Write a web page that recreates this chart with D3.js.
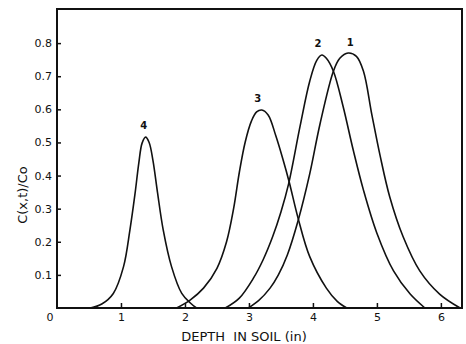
<!DOCTYPE html>
<html>
<head>
<meta charset="utf-8">
<script src="https://cdn.jsdelivr.net/npm/d3@7"></script>
<style>
  body { margin: 0; background: #fff; }
  text { font-family: "DejaVu Sans", sans-serif; fill: #111; }
</style>
</head>
<body>
<script>

// depth (in) and C/Co, one pair of arrays per curve
var curve1X = [2.99, 3.15, 3.33, 3.46, 3.60, 3.77, 3.95, 4.11, 4.32, 4.42, 4.55, 4.68, 4.79, 4.92, 5.05, 5.20, 5.41, 5.67, 5.98, 6.30];
var curve1Y = [0, 0.022, 0.06, 0.1, 0.16, 0.265, 0.405, 0.555, 0.715, 0.754, 0.77, 0.76, 0.715, 0.585, 0.46, 0.336, 0.215, 0.112, 0.042, 0];

var curve2X = [2.63, 2.85, 3.07, 3.22, 3.37, 3.50, 3.62, 3.80, 3.95, 4.06, 4.14, 4.21, 4.32, 4.47, 4.63, 4.79, 5.00, 5.26, 5.52, 5.75];
var curve2Y = [0, 0.03, 0.09, 0.145, 0.215, 0.29, 0.375, 0.55, 0.685, 0.748, 0.764, 0.754, 0.715, 0.61, 0.477, 0.356, 0.226, 0.112, 0.042, 0];

var curve3X = [1.87, 2.08, 2.29, 2.50, 2.65, 2.76, 2.85, 2.94, 3.04, 3.12, 3.20, 3.30, 3.42, 3.53, 3.63, 3.77, 3.95, 4.21, 4.38, 4.53];
var curve3Y = [0, 0.024, 0.06, 0.12, 0.2, 0.3, 0.41, 0.5, 0.565, 0.592, 0.598, 0.583, 0.52, 0.45, 0.38, 0.27, 0.155, 0.06, 0.02, 0];

var curve4X = [0.52, 0.70, 0.88, 1.04, 1.14, 1.22, 1.28, 1.33, 1.385, 1.44, 1.50, 1.57, 1.66, 1.79, 1.95, 2.08, 2.18];
var curve4Y = [0, 0.012, 0.044, 0.125, 0.236, 0.346, 0.44, 0.498, 0.516, 0.5, 0.445, 0.35, 0.236, 0.125, 0.044, 0.016, 0];

var curveNames = ["1", "2", "3", "4"];
var xTicks = [1, 2, 3, 4, 5, 6];
var yTicks = [0.1, 0.2, 0.3, 0.4, 0.5, 0.6, 0.7, 0.8];

var width = 466, height = 344;
var margins = {top: 9, left: 57, bottom: 36, right: 4};

var xScale = d3.scaleLinear()
              .domain([0, 6.33])
              .range([margins.left, width - margins.right]);
var yScale = d3.scaleLinear()
              .domain([0, 0.903])
              .range([height - margins.bottom, margins.top]);

var svg = d3.select("body")
    .append("svg")
    .attr("width", width)
    .attr("height", height);

var curves = [
  {name: curveNames[0], xs: curve1X, ys: curve1Y, dx: 2, dy: -7},
  {name: curveNames[1], xs: curve2X, ys: curve2Y, dx: -4, dy: -8},
  {name: curveNames[2], xs: curve3X, ys: curve3Y, dx: -4, dy: -8},
  {name: curveNames[3], xs: curve4X, ys: curve4Y, dx: -2, dy: -8}
];

var line = d3.line()
            .x(function(d){return xScale(d[0]);})
            .y(function(d){return yScale(Math.max(0, d[1]));})
            .curve(d3.curveCatmullRom.alpha(0.5));

var plot = svg.append("g").classed("plot", true);

plot.selectAll("path.curve")
    .data(curves)
    .enter()
    .append("path")
    .classed("curve", true)
    .attr("d", function(d){
      return line(d.xs.map(function(x, i){return [x, d.ys[i]];}));
    })
    .attr("fill", "none")
    .attr("stroke", "#111")
    .attr("stroke-width", 1.6);

// number above each peak
plot.selectAll("text.name")
    .data(curves)
    .enter()
    .append("text")
    .classed("name", true)
    .attr("x", function(d){
      var i = d3.maxIndex(d.ys);
      return xScale(d.xs[i]) + d.dx;
    })
    .attr("y", function(d){
      return yScale(d3.max(d.ys)) + d.dy;
    })
    .attr("text-anchor", "middle")
    .attr("font-size", 10)
    .attr("font-weight", "bold")
    .text(function(d){return d.name;});

// axes, ticks pointing into the plot
var xAxis = d3.axisBottom(xScale)
              .tickValues(xTicks)
              .tickSize(-5)
              .tickPadding(5)
              .tickFormat(d3.format("d"));
var yAxis = d3.axisLeft(yScale)
              .tickValues(yTicks)
              .tickSize(-4)
              .tickPadding(5)
              .tickFormat(d3.format(".1f"));

var gx = svg.append("g")
    .attr("transform", "translate(0," + yScale(0) + ")")
    .call(xAxis);
var gy = svg.append("g")
    .attr("transform", "translate(" + xScale(0) + ",0)")
    .call(yAxis);

[gx, gy].forEach(function(g){
  g.select(".domain").remove();
  g.selectAll(".tick line").attr("stroke", "#111").attr("stroke-width", 1.5);
  g.selectAll(".tick text")
    .attr("font-family", "DejaVu Sans, sans-serif")
    .attr("font-size", 11)
    .attr("fill", "#111");
});

svg.append("text")
    .attr("x", xScale(0) - 7)
    .attr("y", yScale(0) + 13)
    .attr("text-anchor", "middle")
    .attr("font-size", 11)
    .text("0");

// frame
svg.append("rect")
    .attr("x", xScale(0))
    .attr("y", yScale(0.903))
    .attr("width", xScale(6.33) - xScale(0))
    .attr("height", yScale(0) - yScale(0.903))
    .attr("fill", "none")
    .attr("stroke", "#111")
    .attr("stroke-width", 2);

svg.append("text")
    .attr("x", 244)
    .attr("y", 341)
    .attr("text-anchor", "middle")
    .attr("font-size", 13)
    .style("white-space", "pre")
    .text("DEPTH  IN SOIL (in)");

svg.append("text")
    .attr("transform", "translate(27,195) rotate(-90)")
    .attr("text-anchor", "middle")
    .attr("font-size", 13)
    .text("C(x,t)/Co");

</script>
</body>
</html>
